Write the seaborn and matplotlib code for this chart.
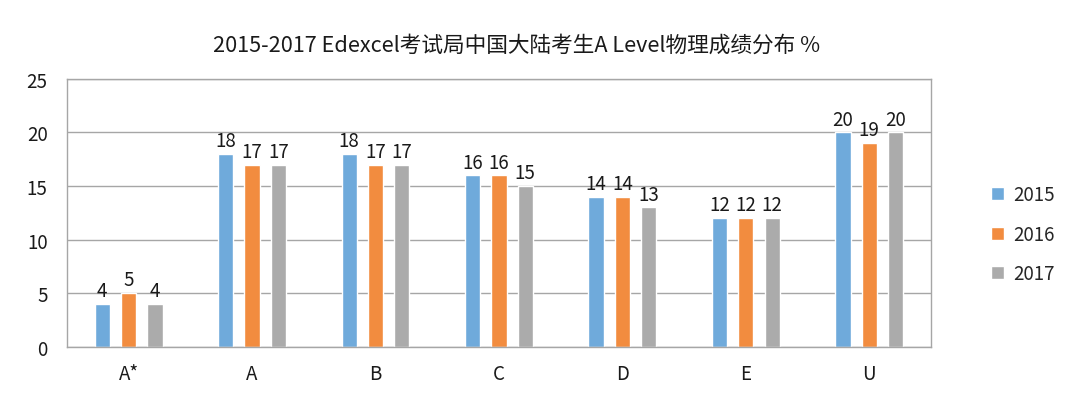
import pandas as pd
import matplotlib.pyplot as plt
import seaborn as sns

grades = ['A*', 'A', 'B', 'C', 'D', 'E', 'U']
years = ['2015', '2016', '2017']
pct_2015 = [4, 18, 18, 16, 14, 12, 20]
pct_2016 = [5, 17, 17, 16, 14, 12, 19]
pct_2017 = [4, 17, 17, 15, 13, 12, 20]
colors = ['#6FAADB', '#F28C3F', '#ABABAB']

data = pd.DataFrame({
    'grade': grades * 3,
    'year': [y for y in years for _ in grades],
    'pct': pct_2015 + pct_2016 + pct_2017,
})

sns.set_style('white')
plt.rcParams['font.family'] = ['Noto Sans CJK SC', 'DejaVu Sans']
plt.rcParams['font.weight'] = 'medium'

fig, ax = plt.subplots(figsize=(10.8, 4.1), dpi=100)
fig.subplots_adjust(left=0.062, right=0.862, top=0.805, bottom=0.152)

sns.barplot(data=data, x='grade', y='pct', hue='year', palette=colors,
            width=0.64, gap=0.42, ax=ax, saturation=1)

for cont in ax.containers:
    ax.bar_label(cont, fmt='%d', padding=2, fontsize=13.5, color='#1a1a1a')

ax.set_ylim(0, 25)
ax.set_yticks(range(0, 26, 5))
ax.yaxis.grid(True, color='#A6A6A6', linewidth=1)
ax.set_axisbelow(True)
for s in ax.spines.values():
    s.set_color('#A6A6A6')
    s.set_linewidth(1)
ax.tick_params(axis='both', length=0, labelsize=13.5, labelcolor='#1a1a1a')
ax.tick_params(axis='y', pad=14)
ax.tick_params(axis='x', pad=12)
ax.set_xlabel('')
ax.set_ylabel('')
ax.set_title('2015-2017 Edexcel考试局中国大陆考生A Level物理成绩分布 %',
             fontsize=15.6, color='#1a1a1a', pad=20, x=0.52)

ax.legend(loc='center left', bbox_to_anchor=(1.05, 0.42), frameon=False,
          fontsize=13.5, handlelength=0.7, handleheight=0.7, labelspacing=1.0,
          handletextpad=0.5)

fig.savefig('out.png', dpi=100)
